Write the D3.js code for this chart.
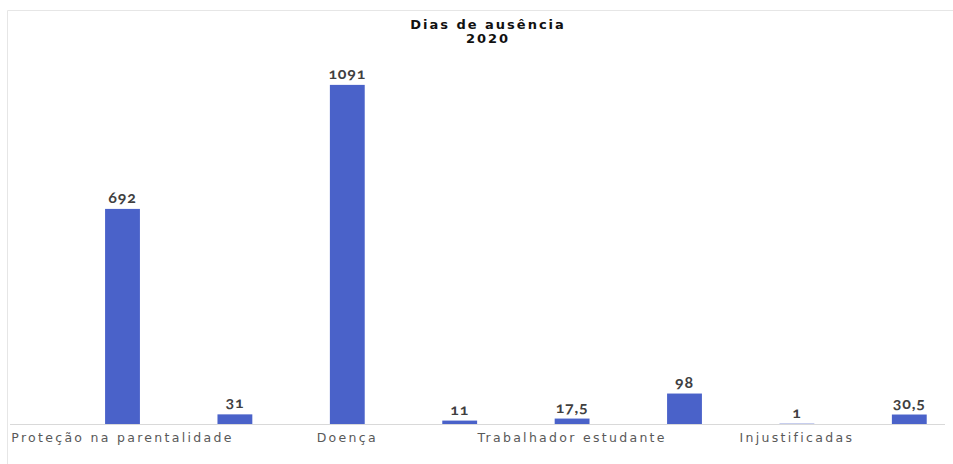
<!DOCTYPE html>
<html>
<head>
<meta charset="utf-8">
<script src="https://cdn.jsdelivr.net/npm/d3@7"></script>
<style>
  html, body { margin: 0; padding: 0; background: #ffffff; }
  svg { display: block; }
  .val { font-family: Lato, "Open Sans", sans-serif; font-weight: 700; font-size: 16px; fill: #404040; letter-spacing: 0.8px; font-feature-settings: "onum"; font-variant-numeric: oldstyle-nums; }
  .cat { font-family: "DejaVu Sans", Verdana, sans-serif; font-size: 12.5px; fill: #595959; letter-spacing: 2.3px; }
  .title { font-family: "DejaVu Sans", Verdana, sans-serif; font-weight: 700; font-size: 13px; fill: #111; letter-spacing: 2px; }
</style>
</head>
<body>
<div id="chart"></div>
<script>
// Days of absence in 2020, one bar per category
const categories = ["c1", "c2", "c3", "c4", "c5", "c6", "c7", "c8"];
const values = [692, 31, 1091, 11, 17.5, 98, 1, 30.5];
const valueLabels = ["692", "31", "1091", "11", "17,5", "98", "1", "30,5"];
// Only every other category label fits along the axis
const tickLabels = ["Proteção na parentalidade", "", "Doença", "", "Trabalhador estudante", "", "Injustificadas", ""];
const titleLines = ["Dias de ausência", "2020"];

const W = 953, H = 464;
const svg = d3.select("#chart").append("svg").attr("width", W).attr("height", H);

// chart frame
svg.append("path")
  .attr("d", `M7.5,${H} V10.5 H${W}`)
  .attr("fill", "none").attr("stroke", "#e6e6e6").attr("stroke-width", 1);

const x = d3.scaleBand()
  .domain(categories)
  .range([66.3, 965.5])
  .paddingInner(0.69)
  .paddingOuter(0.345);

const y = d3.scaleLinear().domain([0, 1200]).range([424, 51]);

// title
svg.append("text").attr("class", "title")
  .attr("text-anchor", "middle")
  .selectAll("tspan").data(titleLines).join("tspan")
  .attr("x", 488).attr("y", (d, i) => 29 + i * 14)
  .text(d => d);

// bars
svg.append("g").selectAll("rect").data(values).join("rect")
  .attr("x", (d, i) => x(categories[i]))
  .attr("width", x.bandwidth())
  .attr("y", d => y(d))
  .attr("height", d => y(0) - y(d))
  .attr("fill", "#4a62c9");

// category axis
const axis = d3.axisBottom(x)
  .tickSize(0)
  .tickPadding(9)
  .tickFormat((d, i) => tickLabels[i]);
const gx = svg.append("g").attr("transform", `translate(0,${y(0)})`).call(axis);
gx.select(".domain").remove();
gx.selectAll("text").attr("class", "cat").attr("font-family", null).attr("font-size", null).attr("fill", null);
gx.attr("font-family", null).attr("font-size", null);
svg.append("line")
  .attr("x1", 10).attr("x2", 945)
  .attr("y1", y(0) + 0.5).attr("y2", y(0) + 0.5)
  .attr("stroke", "#d9d9d9");

// value labels
svg.append("g").selectAll("text").data(values).join("text")
  .attr("class", "val")
  .attr("text-anchor", "middle")
  .attr("x", (d, i) => x(categories[i]) + x.bandwidth() / 2)
  .attr("y", d => y(d) - 6)
  .text((d, i) => valueLabels[i]);
</script>
</body>
</html>
